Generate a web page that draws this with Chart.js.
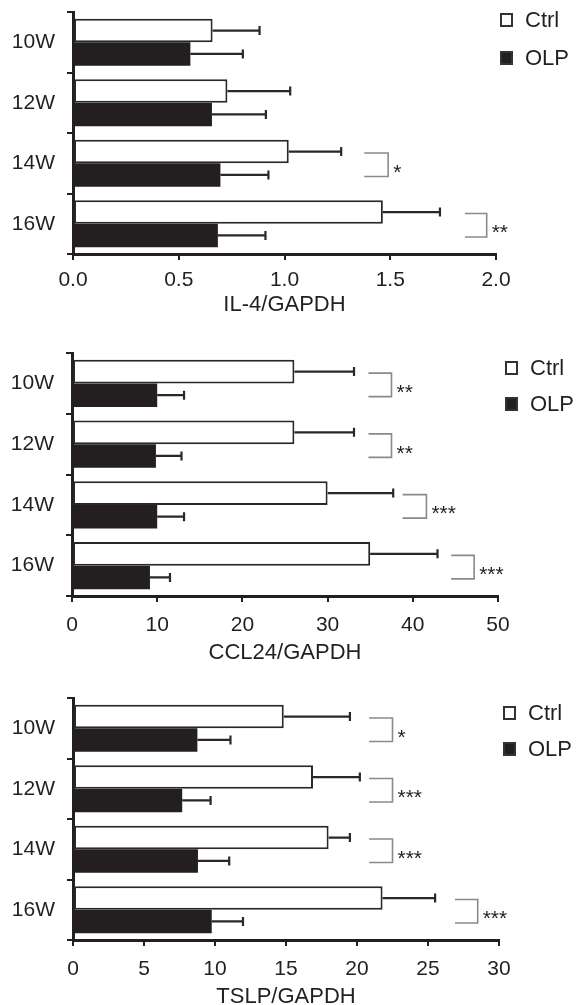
<!DOCTYPE html>
<html>
<head>
<meta charset="utf-8">
<script src="https://cdn.jsdelivr.net/npm/chart.js@4.4.1/dist/chart.umd.min.js"></script>
<style>
  html, body { margin: 0; padding: 0; background: #fff; overflow: hidden; }
  body { width: 576px; height: 1005px; position: relative; }
  canvas { position: absolute; left: 0; }
</style>
</head>
<body>
<canvas id="il4Chart" width="576" height="330" style="top:0"></canvas>
<canvas id="ccl24Chart" width="576" height="350" style="top:320px"></canvas>
<canvas id="tslpChart" width="576" height="360" style="top:660px"></canvas>
<script>
const weeks = ['10W', '12W', '14W', '16W'];

// IL-4/GAPDH
const il4Ctrl = [0.66, 0.73, 1.02, 1.465];
const il4CtrlErr = [0.222, 0.297, 0.248, 0.27];
const il4Olp = [0.555, 0.657, 0.697, 0.685];
const il4OlpErr = [0.248, 0.255, 0.227, 0.225];
const il4Ticks = ['0.0', '0.5', '1.0', '1.5', '2.0'];
const il4Stars = ['', '', '*', '**'];
const il4Spans = [null, null, [1.377, 1.49], [1.853, 1.956]];

// CCL24/GAPDH
const ccl24Ctrl = [26.1, 26.1, 30.0, 35.0];
const ccl24CtrlErr = [7.0, 7.0, 7.7, 7.9];
const ccl24Olp = [10.0, 9.85, 10.0, 9.15];
const ccl24OlpErr = [3.15, 3.0, 3.15, 2.35];
const ccl24Ticks = ['0', '10', '20', '30', '40', '50'];
const ccl24Stars = ['**', '**', '***', '***'];
const ccl24Spans = [[34.8, 37.5], [34.8, 37.5], [38.8, 41.6], [44.5, 47.2]];

// TSLP/GAPDH
const tslpCtrl = [14.84, 16.9, 18.0, 21.8];
const tslpCtrlErr = [4.66, 3.3, 1.5, 3.7];
const tslpOlp = [8.76, 7.69, 8.8, 9.77];
const tslpOlpErr = [2.33, 2.0, 2.2, 2.2];
const tslpTicks = ['0', '5', '10', '15', '20', '25', '30'];
const tslpStars = ['*', '***', '***', '***'];
const tslpSpans = [[20.85, 22.5], [20.85, 22.5], [20.85, 22.5], [26.9, 28.5]];

const INK = '#231f20';
const FONT = "'Liberation Sans', Arial, sans-serif";

// one-sided error bars (+SD) drawn from bar end through the x scale
const errorBars = {
  id: 'errorBars',
  afterDatasetsDraw(chart) {
    const ctx = chart.ctx;
    const x = chart.scales.x;
    ctx.save();
    ctx.strokeStyle = '#2b2728';
    ctx.lineWidth = 2.2;
    chart.data.datasets.forEach((ds, i) => {
      chart.getDatasetMeta(i).data.forEach((bar, j) => {
        const x0 = x.getPixelForValue(ds.data[j]);
        const x1 = x.getPixelForValue(ds.data[j] + ds.errors[j]);
        ctx.beginPath();
        ctx.moveTo(x0, bar.y);
        ctx.lineTo(x1, bar.y);
        ctx.moveTo(x1, bar.y - 4.5);
        ctx.lineTo(x1, bar.y + 4.5);
        ctx.stroke();
      });
    });
    ctx.restore();
  }
};

// significance brackets between Ctrl and OLP bars
const sigBrackets = {
  id: 'sigBrackets',
  afterDatasetsDraw(chart, args, opts) {
    const ctx = chart.ctx;
    const x = chart.scales.x;
    const upper = chart.getDatasetMeta(0).data;
    const lower = chart.getDatasetMeta(1).data;
    ctx.save();
    opts.spans.forEach((span, j) => {
      if (!span) return;
      const xa = x.getPixelForValue(span[0]);
      const xb = x.getPixelForValue(span[1]);
      const ya = upper[j].y + 1.5;
      const yb = lower[j].y + 1.5;
      ctx.strokeStyle = '#8a8a8a';
      ctx.lineWidth = 1.6;
      ctx.beginPath();
      ctx.moveTo(xa, ya);
      ctx.lineTo(xb, ya);
      ctx.lineTo(xb, yb);
      ctx.lineTo(xa, yb);
      ctx.stroke();
      ctx.fillStyle = INK;
      ctx.font = '21px ' + FONT;
      ctx.textAlign = 'left';
      ctx.textBaseline = 'alphabetic';
      ctx.fillText(opts.stars[j], xb + 5, (ya + yb) / 2 + 14);
    });
    ctx.restore();
  }
};

// legend at the right of each panel
const sideLegend = {
  id: 'sideLegend',
  afterDraw(chart, args, opts) {
    const ctx = chart.ctx;
    ctx.save();
    chart.data.datasets.forEach((ds, i) => {
      const y = opts.rows[i];
      ctx.fillStyle = ds.backgroundColor;
      ctx.fillRect(opts.x, y - 6.5, 13, 14);
      ctx.strokeStyle = '#333';
      ctx.lineWidth = 2;
      ctx.strokeRect(opts.x + 1, y - 5.5, 11, 12);
      ctx.fillStyle = INK;
      ctx.font = '22px ' + FONT;
      ctx.textAlign = 'left';
      ctx.textBaseline = 'middle';
      ctx.fillText(ds.label, opts.x + 25, y + 1);
    });
    ctx.restore();
  }
};

function makeChart(id, p) {
  const step = parseFloat(p.ticks[1]);
  const max = parseFloat(p.ticks[p.ticks.length - 1]);
  return new Chart(document.getElementById(id), {
    type: 'bar',
    data: {
      labels: weeks,
      datasets: [
        { label: 'Ctrl', data: p.ctrl, errors: p.ctrlErr, backgroundColor: '#ffffff',
          borderColor: '#2b2728', borderWidth: 2, borderSkipped: false },
        { label: 'OLP', data: p.olp, errors: p.olpErr, backgroundColor: INK,
          borderColor: INK, borderWidth: 0 }
      ]
    },
    options: {
      indexAxis: 'y',
      responsive: false,
      animation: false,
      devicePixelRatio: 1,
      datasets: { bar: { categoryPercentage: 0.775, barPercentage: 1 } },
      layout: { padding: { top: p.top, left: 0, right: p.right, bottom: 0 } },
      scales: {
        x: {
          min: 0, max: max,
          ticks: { stepSize: step, color: INK, font: { family: FONT, size: 21 }, padding: p.tickPad,
                   maxRotation: 0, callback: (v, i) => p.ticks[i] },
          grid: { drawOnChartArea: false, tickLength: 6, lineWidth: 2, color: INK },
          border: { width: 3, color: INK },
          title: { display: true, text: p.title, color: INK, font: { family: FONT, size: 22 },
                   padding: { top: 0, bottom: p.titlePad } },
          afterFit: s => { s.height = p.xHeight; s.paddingLeft = 0; s.paddingRight = 0; }
        },
        y: {
          ticks: { color: INK, font: { family: FONT, size: 21 }, padding: 12 },
          grid: { drawOnChartArea: false, tickLength: 6, lineWidth: 2, color: INK, offset: true },
          border: { width: 3, color: INK },
          afterFit: s => { s.width = p.left; s.paddingTop = 0; s.paddingBottom = 0; }
        }
      },
      plugins: {
        legend: { display: false },
        tooltip: { enabled: false },
        sigBrackets: { spans: p.spans, stars: p.stars },
        sideLegend: { x: p.legendX, rows: p.legendRows }
      }
    },
    plugins: [errorBars, sigBrackets, sideLegend]
  });
}

makeChart('il4Chart', {
  ctrl: il4Ctrl, ctrlErr: il4CtrlErr, olp: il4Olp, olpErr: il4OlpErr,
  ticks: il4Ticks, stars: il4Stars, spans: il4Spans, title: 'IL-4/GAPDH',
  top: 12, left: 73, right: 80, xHeight: 76, titlePad: 11.8, tickPad: 8,
  legendX: 500, legendRows: [19.5, 57.5]
});

makeChart('ccl24Chart', {
  ctrl: ccl24Ctrl, ctrlErr: ccl24CtrlErr, olp: ccl24Olp, olpErr: ccl24OlpErr,
  ticks: ccl24Ticks, stars: ccl24Stars, spans: ccl24Spans, title: 'CCL24/GAPDH',
  top: 33, left: 72, right: 78, xHeight: 74, titlePad: 3.4, tickPad: 11,
  legendX: 505, legendRows: [47.5, 83.5]
});

makeChart('tslpChart', {
  ctrl: tslpCtrl, ctrlErr: tslpCtrlErr, olp: tslpOlp, olpErr: tslpOlpErr,
  ticks: tslpTicks, stars: tslpStars, spans: tslpSpans, title: 'TSLP/GAPDH',
  top: 38, left: 73, right: 77, xHeight: 80, titlePad: 10.1, tickPad: 11,
  legendX: 503, legendRows: [52.5, 88.5]
});
</script>
</body>
</html>
